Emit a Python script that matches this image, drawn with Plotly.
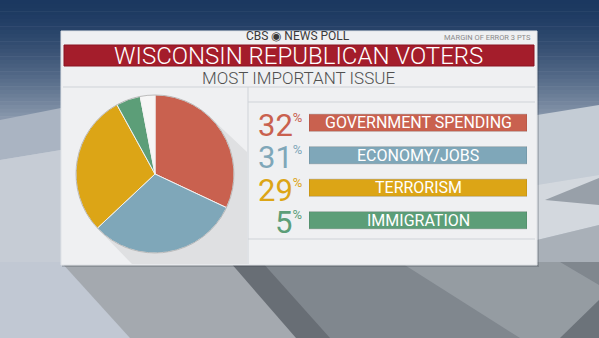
import plotly.graph_objects as go

# ---- data ----
issues = ["GOVERNMENT SPENDING", "ECONOMY/JOBS", "TERRORISM", "IMMIGRATION"]
shares = [32, 31, 29, 5]
other_label = "OTHER"
other_share = 3
slice_colors = ["#c9614f", "#7fa7b9", "#dca516", "#5c9e78"]
other_color = "#f6f6f6"

W, H = 599, 338

def px(x):
    return x / W

def py(y):
    return 1 - y / H

def lerp(c1, c2, t):
    a = [int(c1[i:i + 2], 16) for i in (1, 3, 5)]
    b = [int(c2[i:i + 2], 16) for i in (1, 3, 5)]
    return "#%02x%02x%02x" % tuple(round(a[k] + (b[k] - a[k]) * t) for k in range(3))

def poly(pts, col, op=1.0, layer="below"):
    path = "M " + " L ".join(f"{x},{y}" for x, y in pts) + " Z"
    return dict(type="path", xref="x", yref="y", path=path, fillcolor=col,
                line_width=0, layer=layer, opacity=op)

shapes = []
# background gradient (top blue to grey)
n = 40
for i in range(n):
    y0 = i * 150 / n
    y1 = (i + 1) * 150 / n + 0.5
    t = i / (n - 1)
    col = lerp("#1b3860", "#b7c0cc", t ** 1.5)
    shapes.append(dict(type="rect", xref="x", yref="y", x0=0, x1=W, y0=y0, y1=y1,
                       fillcolor=col, line_width=0, layer="below"))
shapes.append(dict(type="rect", xref="x", yref="y", x0=0, x1=W, y0=150, y1=H,
                   fillcolor="#bfc7d1", line_width=0, layer="below"))
# geometric panels in background
shapes.append(poly([(0, 120), (61, 108), (61, 150), (0, 160)], "#aab4c2"))
shapes.append(poly([(0, 160), (61, 150), (61, 338), (0, 338)], "#c6ccd5"))
shapes.append(poly([(537, 115), (599, 105), (599, 175), (537, 185)], "#c4ccd5"))
shapes.append(poly([(537, 185), (599, 175), (599, 225), (537, 240)], "#d3d8de"))
shapes.append(poly([(545, 200), (599, 178), (599, 205)], "#98a0a9"))
shapes.append(poly([(537, 240), (599, 225), (599, 270), (537, 270)], "#a9b0b8"))
shapes.append(dict(type="rect", xref="x", yref="y", x0=230, x1=W, y0=262, y1=H,
                   fillcolor="#80878e", line_width=0, layer="below"))
shapes.append(poly([(400, 262), (560, 262), (599, 285), (599, 338), (520, 338)], "#9aa1a8", 0.8))
shapes.append(poly([(599, 300), (599, 338), (560, 338)], "#6c737a"))
shapes.append(poly([(0, 262), (61, 262), (130, 338), (0, 338)], "#c1c8d3"))
shapes.append(poly([(61, 262), (235, 262), (300, 338), (130, 338)], "#a4a9af"))
shapes.append(poly([(230, 262), (262, 262), (330, 338), (296, 338)], "#686e75"))
# panel shadow + panel
shapes.append(dict(type="rect", xref="x", yref="y", x0=62, x1=539, y0=33, y1=267,
                   fillcolor="rgba(40,50,60,0.22)", line_width=0, layer="below"))
shapes.append(dict(type="rect", xref="x", yref="y", x0=61, x1=537, y0=31, y1=265,
                   fillcolor="#eff0f2", line=dict(color="#dfe2e6", width=1), layer="below"))
# red banner
shapes.append(dict(type="rect", xref="x", yref="y", x0=64, x1=534, y0=45, y1=66,
                   fillcolor="#a41d2b", line=dict(color="#8a1422", width=1), layer="below"))
# divider lines
line_col = "#cfd3d8"
shapes.append(dict(type="line", xref="x", yref="y", x0=63, x1=535, y0=87, y1=87,
                   line=dict(color=line_col, width=1), layer="below"))
shapes.append(dict(type="line", xref="x", yref="y", x0=248, x1=248, y0=87, y1=264,
                   line=dict(color=line_col, width=1), layer="below"))
shapes.append(dict(type="line", xref="x", yref="y", x0=248, x1=535, y0=102, y1=102,
                   line=dict(color=line_col, width=1), layer="below"))
shapes.append(dict(type="line", xref="x", yref="y", x0=248, x1=535, y0=239, y1=239,
                   line=dict(color=line_col, width=1), layer="below"))
# pie drop shadow
shapes.append(poly([(211, 118), (247, 152), (247, 264), (132, 264), (99, 230)], "#dfe0e2"))

pie_r = 79
cx, cy = 155, 174
# pie rim
shapes.append(dict(type="circle", xref="x", yref="y", x0=cx - pie_r, x1=cx + pie_r,
                   y0=cy - pie_r, y1=cy + pie_r, line=dict(color="rgba(90,90,90,0.35)", width=1),
                   layer="above"))

fig = go.Figure()

# hidden base axes to place shapes in pixel coords
fig.add_trace(go.Scatter(x=[0, W], y=[0, H], mode="markers", marker=dict(opacity=0),
                         hoverinfo="skip", showlegend=False, xaxis="x", yaxis="y"))

fig.add_trace(go.Pie(
    labels=issues + [other_label],
    values=shares + [other_share],
    marker=dict(colors=slice_colors + [other_color], line=dict(color="#f2f2f2", width=1)),
    sort=False, direction="clockwise", rotation=0,
    textinfo="none", hoverinfo="label+percent", showlegend=False,
    domain=dict(x=[px(cx - pie_r), px(cx + pie_r)], y=[py(cy + pie_r), py(cy - pie_r)]),
))

# label banners
fig.add_trace(go.Bar(
    y=issues, x=[1] * len(issues), orientation="h",
    marker=dict(color=slice_colors, line=dict(color="rgba(0,0,0,0.15)", width=1)),
    width=0.53, showlegend=False, hoverinfo="skip", textposition="none",
    xaxis="x2", yaxis="y2",
))

annotations = []
for lab, v, c in zip(issues, shares, slice_colors):
    annotations.append(dict(
        x=0.5, xref="x2", y=lab, yref="y2", xanchor="center", yanchor="middle",
        text=lab, showarrow=False,
        font=dict(family="Roboto", size=16, color="#ffffff"),
    ))
    annotations.append(dict(
        x=px(304), xref="paper", y=lab, yref="y2", xanchor="right", yanchor="middle",
        text=f"{v}<sup><span style='font-size:13px'>%</span></sup>", showarrow=False,
        yshift=-2, height=28, valign="middle",
        font=dict(family="Roboto", size=31, color=c),
    ))

annotations += [
    dict(x=px(298), y=py(36), xref="paper", yref="paper", text="CBS ◉ NEWS POLL",
         showarrow=False, font=dict(family="Roboto", size=12, color="#3a3a3a"),
         xanchor="center", yanchor="middle"),
    dict(x=px(533), y=py(37), xref="paper", yref="paper", text="MARGIN OF ERROR 3 PTS",
         showarrow=False, font=dict(family="Roboto", size=7.5, color="#8a8a8a"),
         xanchor="right", yanchor="middle"),
    dict(x=px(298), y=py(56), xref="paper", yref="paper", text="WISCONSIN REPUBLICAN VOTERS",
         showarrow=False, font=dict(family="Roboto", size=24, color="#ffffff", weight=300),
         xanchor="center", yanchor="middle", height=20, valign="middle"),
    dict(x=px(298), y=py(78), xref="paper", yref="paper", text="MOST IMPORTANT ISSUE",
         showarrow=False, font=dict(family="Roboto", size=17, color="#505050", weight=300),
         xanchor="center", yanchor="middle"),
]

fig.update_layout(
    width=W, height=H, margin=dict(l=0, r=0, t=0, b=0),
    paper_bgcolor="#bfc7d1", plot_bgcolor="rgba(0,0,0,0)",
    shapes=shapes, annotations=annotations,
    xaxis=dict(range=[0, W], domain=[0, 1], visible=False, fixedrange=True),
    yaxis=dict(range=[H, 0], domain=[0, 1], visible=False, fixedrange=True),
    xaxis2=dict(range=[0, 1], domain=[px(309), px(527)], anchor="y2", visible=False),
    yaxis2=dict(range=[3.5, -0.5], domain=[py(236.5), py(106.5)], anchor="x2",
                visible=False, type="category", categoryorder="array", categoryarray=issues),
)

fig.write_html("out.html")
